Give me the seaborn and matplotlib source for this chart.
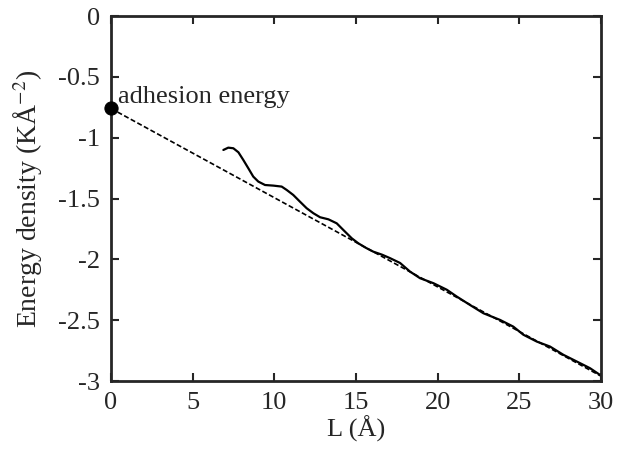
import numpy as np
import pandas as pd
import seaborn as sns
import matplotlib.pyplot as plt

# ----------------------------------------
# Datos
# ----------------------------------------
L_curve = [6.88, 7.18, 7.49, 7.8, 8.1, 8.41, 8.71, 9.02, 9.43, 9.94, 10.45,
           10.76, 11.16, 11.57, 11.98, 12.39, 12.8, 13.31, 13.82, 14.22, 14.74,
           15.14, 15.6, 16.06, 16.6, 17.08, 17.7, 18.3, 18.92, 19.74, 20.56,
           21.17, 21.98, 22.8, 23.82, 24.63, 25.25, 26.07, 26.88, 27.7, 28.52,
           29.33, 29.94]
E_curve = [-1.101, -1.082, -1.087, -1.12, -1.183, -1.252, -1.32, -1.361, -1.389,
           -1.394, -1.402, -1.43, -1.471, -1.526, -1.58, -1.621, -1.654, -1.671,
           -1.704, -1.758, -1.827, -1.868, -1.905, -1.937, -1.962, -1.99, -2.03,
           -2.10, -2.155, -2.196, -2.25, -2.306, -2.375, -2.443, -2.498, -2.553,
           -2.62, -2.676, -2.717, -2.785, -2.84, -2.895, -2.95]

L_fit = [0, 30]
E_fit = [-0.76, -2.96]

adhesion_L = [0]
adhesion_E = [-0.76]

x_ticks = [0, 5, 10, 15, 20, 25, 30]
y_ticks = [0, -0.5, -1, -1.5, -2, -2.5, -3]
y_tick_labels = ['0', '-0.5', '-1', '-1.5', '-2', '-2.5', '-3']

df_curve = pd.DataFrame({'L': L_curve, 'E': E_curve})
df_fit = pd.DataFrame({'L': L_fit, 'E': E_fit})

# ----------------------------------------
# Estilo
# ----------------------------------------
sns.set_style('ticks')
plt.rcParams['font.family'] = ['Liberation Serif', 'DejaVu Serif']
plt.rcParams['mathtext.fontset'] = 'stix'

fig = plt.figure(figsize=(6.18, 4.51), dpi=100)
ax = fig.add_axes([0.1796, 0.1552, 0.7929, 0.8093])

sns.lineplot(data=df_fit, x='L', y='E', ax=ax, color='black', lw=1.2,
             linestyle=(0, (3, 1.5)))
sns.lineplot(data=df_curve, x='L', y='E', ax=ax, color='black', lw=1.6)
sns.scatterplot(x=adhesion_L, y=adhesion_E, ax=ax, color='black', s=90,
                edgecolor='black', zorder=5, clip_on=False)
ax.text(0.4, -0.665, 'adhesion energy', fontsize=19, va='center', ha='left')

ax.set_xlim(0, 30)
ax.set_ylim(-3, 0)
ax.set_xticks(x_ticks)
ax.set_xticklabels([str(t) for t in x_ticks])
ax.set_yticks(y_ticks)
ax.set_yticklabels(y_tick_labels)
ax.tick_params(direction='in', length=6, width=1.5, labelsize=19,
               top=True, right=True, pad=8)
for s in ax.spines.values():
    s.set_linewidth(2)
    s.set_visible(True)

ax.set_xlabel('L (Å)', fontsize=19, labelpad=1)
ax.set_ylabel('Energy density (KÅ$^{-2}$)', fontsize=20, labelpad=10)

fig.savefig('out.png', dpi=100)
